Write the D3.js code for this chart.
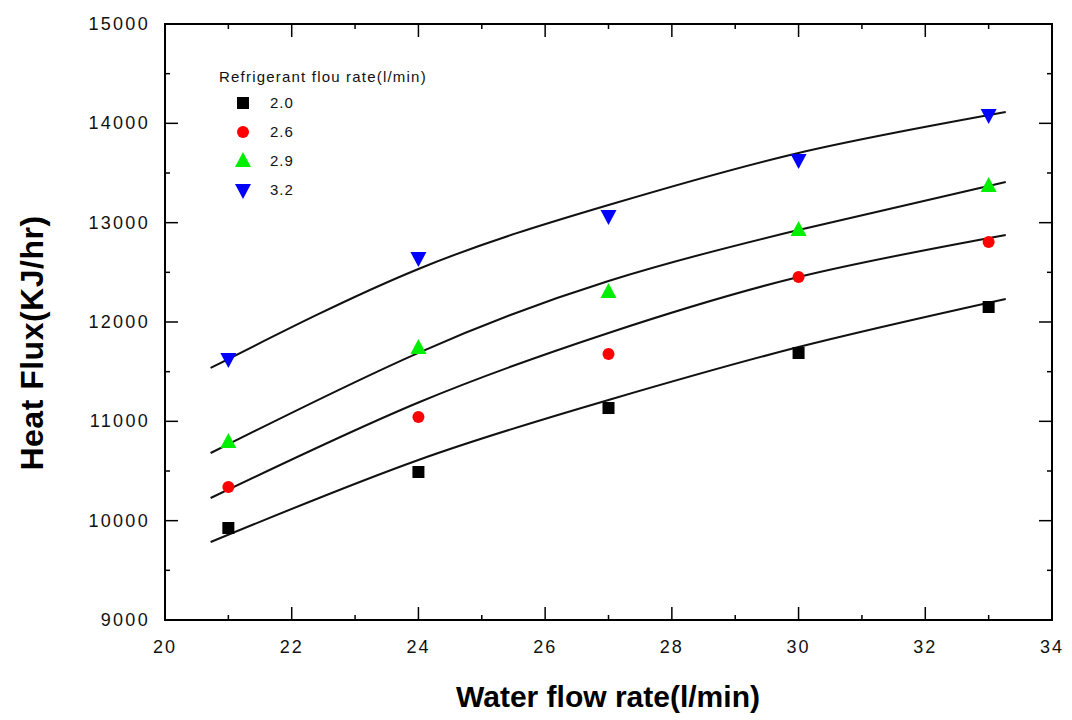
<!DOCTYPE html>
<html><head><meta charset="utf-8">
<script src="https://cdn.jsdelivr.net/npm/d3@7"></script>
<style>body{margin:0;background:#fff}svg{display:block}text{font-family:"Liberation Sans",Arial,sans-serif}</style>
</head><body><svg id="c" width="1072" height="720"></svg>
<script>
const waterFlow = [21, 24, 27, 30, 33];
const seriesLabels = ["2.0", "2.6", "2.9", "3.2"];
const seriesColors = ["#000000", "#ff0000", "#00ee00", "#0000ff"];
const seriesShapes = ["square", "circle", "triangle", "triangleDown"];
const heat20 = [9926, 10490, 11134, 11688, 12151];
const heat26 = [10339, 11044, 11678, 12453, 12806];
const heat29 = [10792, 11738, 12302, 12926, 13369];
const heat32 = [11628, 12644, 13067, 13631, 14084];
const fitX = [20.72, 24, 27, 30, 33.27];
const fit20 = [9785, 10611, 11215, 11748, 12232];
const fit26 = [10228, 11190, 11890, 12453, 12876];
const fit29 = [10681, 11690, 12413, 12926, 13410];
const fit32 = [11537, 12534, 13178, 13702, 14114];
const xMajorTicks = [20, 22, 24, 26, 28, 30, 32, 34];
const xMinorTicks = [21, 23, 25, 27, 29, 31, 33];
const yMajorTicks = [9000, 10000, 11000, 12000, 13000, 14000, 15000];
const yMinorTicks = [9500, 10500, 11500, 12500, 13500, 14500];
const legendTitle = "Refrigerant flou rate(l/min)";
const xTitle = "Water flow rate(l/min)";
const yTitle = "Heat Flux(KJ/hr)";

const pts = [heat20, heat26, heat29, heat32];
const fits = [fit20, fit26, fit29, fit32];

const svg = d3.select("#c");
const L = 165, R = 1052, T = 24, B = 620;
const x = d3.scaleLinear().domain([20, 34]).range([L, R]);
const y = d3.scaleLinear().domain([9000, 15000]).range([B, T]);

// frame
svg.append("rect").attr("x", L).attr("y", T).attr("width", R - L).attr("height", B - T)
  .attr("fill", "none").attr("stroke", "#000").attr("stroke-width", 2);

const tickG = svg.append("g").attr("stroke", "#000").attr("stroke-width", 1.5);
function xt(v, len) {
  tickG.append("line").attr("x1", x(v)).attr("x2", x(v)).attr("y1", B).attr("y2", B - len);
  tickG.append("line").attr("x1", x(v)).attr("x2", x(v)).attr("y1", T).attr("y2", T + len);
}
function yt(v, len) {
  tickG.append("line").attr("y1", y(v)).attr("y2", y(v)).attr("x1", L).attr("x2", L + len);
  tickG.append("line").attr("y1", y(v)).attr("y2", y(v)).attr("x1", R).attr("x2", R - len);
}
xMajorTicks.forEach(v => xt(v, 13));
xMinorTicks.forEach(v => xt(v, 5));
yMajorTicks.forEach(v => yt(v, 13));
yMinorTicks.forEach(v => yt(v, 5));

// tick labels
svg.append("g").selectAll("text").data(xMajorTicks).join("text")
  .attr("x", d => x(d)).attr("y", 653).attr("text-anchor", "middle")
  .attr("font-size", 18).attr("letter-spacing", 2).attr("fill", "#111").text(d => d);
svg.append("g").selectAll("text").data(yMajorTicks).join("text")
  .attr("x", 150).attr("y", d => y(d) + 6).attr("text-anchor", "end")
  .attr("font-size", 18).attr("letter-spacing", 2.3).attr("fill", "#111").text(d => d);

// titles
svg.append("text").attr("x", 608).attr("y", 707).attr("text-anchor", "middle")
  .attr("font-size", 30).attr("font-weight", "bold").attr("letter-spacing", 0).text(xTitle);
svg.append("text").attr("transform", "translate(43,343) rotate(-90)").attr("text-anchor", "middle")
  .attr("font-size", 32).attr("font-weight", "bold").attr("letter-spacing", 0.5).text(yTitle);

// fit lines
const line = d3.line().x((d, i) => x(fitX[i])).y(d => y(d)).curve(d3.curveNatural);
fits.forEach(f => svg.append("path").attr("d", line(f)).attr("fill", "none")
  .attr("stroke", "#111").attr("stroke-width", 2));

// markers
function marker(g, shape, color, cx, cy) {
  if (shape === "square") g.append("rect").attr("x", cx - 6).attr("y", cy - 6).attr("width", 12).attr("height", 12).attr("fill", color);
  else if (shape === "circle") g.append("circle").attr("cx", cx).attr("cy", cy).attr("r", 6).attr("fill", color);
  else if (shape === "triangle") g.append("path").attr("d", `M${cx},${cy - 9}L${cx + 8},${cy + 6}L${cx - 8},${cy + 6}Z`).attr("fill", color);
  else g.append("path").attr("d", `M${cx},${cy + 9}L${cx + 8},${cy - 6}L${cx - 8},${cy - 6}Z`).attr("fill", color);
}
const mg = svg.append("g");
pts.forEach((s, si) => s.forEach((v, i) => marker(mg, seriesShapes[si], seriesColors[si], x(waterFlow[i]), y(v))));

// legend
svg.append("text").attr("x", 219).attr("y", 82).attr("font-size", 15).attr("letter-spacing", 1.2)
  .attr("fill", "#111").text(legendTitle);
const lg = svg.append("g");
seriesLabels.forEach((lab, i) => {
  const cy = 103 + i * 29;
  marker(lg, seriesShapes[i], seriesColors[i], 243, cy);
  lg.append("text").attr("x", 270).attr("y", cy + 5).attr("font-size", 15).attr("letter-spacing", 1)
    .attr("fill", "#111").text(lab);
});
</script></body></html>
